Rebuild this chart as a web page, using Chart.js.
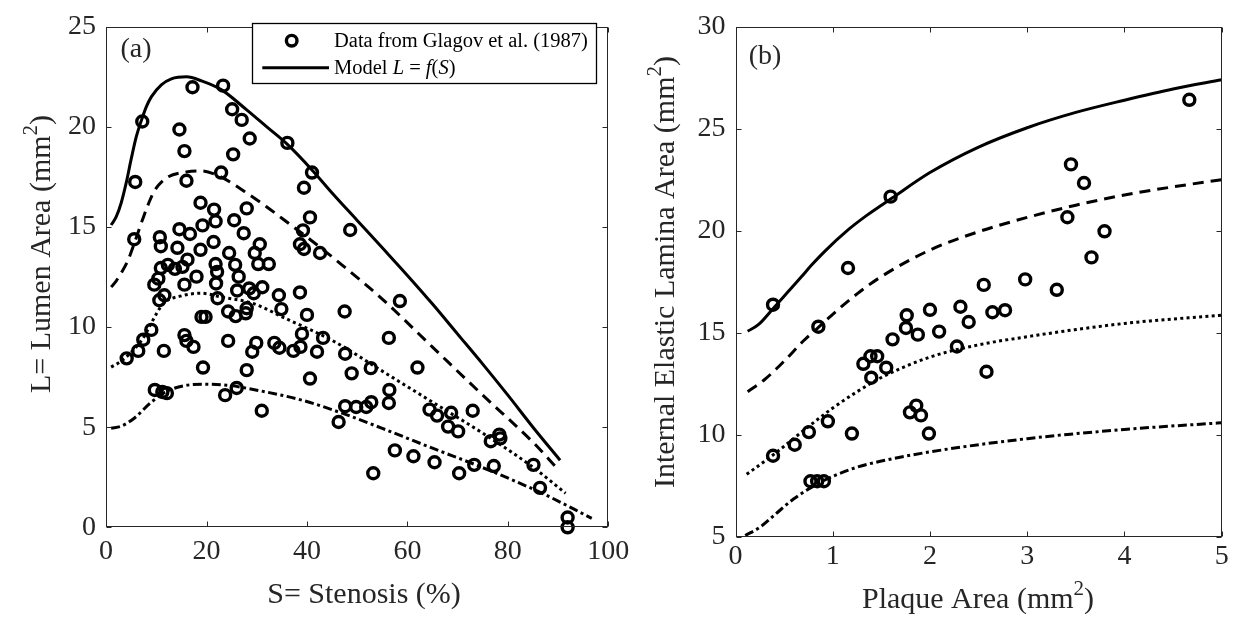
<!DOCTYPE html>
<html><head><meta charset="utf-8">
<script src="https://cdn.jsdelivr.net/npm/chart.js@4.4.0/dist/chart.umd.min.js"></script>
<style>html,body{margin:0;padding:0;background:#fff;width:1239px;height:628px;overflow:hidden}
canvas{position:absolute;left:0;top:0}</style></head>
<body>
<canvas id="ca" width="1239" height="628"></canvas>
<canvas id="cb" width="1239" height="628"></canvas>
<script>
// ---------- Panel (a) data ----------
const stenosis = [7.2,5.8,5.6,17.2,23.3,14.6,15.6,25.1,27.0,28.6,25.3,22.9,16.0,36.1,41.0,39.4,40.6,39.2,38.6,39.4,42.6,48.6,18.8,21.5,21.8,19.2,25.5,28.0,27.4,16.7,14.6,14.2,10.7,10.9,18.8,21.4,24.5,30.6,29.6,30.3,32.4,21.8,25.7,16.2,15.2,13.7,12.3,10.9,10.4,9.6,10.6,11.6,15.6,18.0,22.1,21.9,22.2,26.4,26.1,28.5,29.4,31.1,34.4,34.9,38.6,40.0,24.3,25.8,27.8,28.0,19.0,19.8,9.0,7.4,6.4,4.1,11.5,15.6,16.0,17.4,19.3,24.3,29.9,29.1,28.0,33.5,34.5,37.3,38.7,39.0,43.2,42.0,40.6,47.5,47.6,48.9,52.7,56.3,58.5,62.0,9.7,11.2,12.1,23.7,26.0,31.0,46.3,47.6,49.8,51.8,52.8,56.3,56.4,57.5,61.2,65.4,53.2,64.4,65.9,68.7,68.1,70.1,73.0,70.3,73.3,77.2,76.6,78.3,78.5,85.1,86.4,91.9,91.9];
const lumen = [20.27,17.25,14.39,21.98,22.06,19.87,18.79,20.88,20.35,19.42,18.63,17.72,17.31,19.2,17.72,16.96,15.48,14.83,14.14,13.9,13.7,14.85,16.21,15.87,15.28,15.08,15.34,15.93,14.69,14.65,14.89,13.96,14.49,14.04,13.86,14.25,13.7,14.14,13.7,13.15,13.15,13.15,13.11,13.37,13.01,12.91,13.11,12.95,12.42,12.12,11.34,11.59,12.12,12.52,12.76,12.18,11.44,12.52,11.83,11.93,11.69,11.99,11.59,10.9,11.73,10.61,10.78,10.55,10.69,10.94,10.51,10.51,9.86,9.37,8.81,8.44,8.81,9.6,9.31,9.01,7.98,9.31,9.21,8.77,7.85,9.21,8.97,8.81,9.01,9.66,9.46,8.77,7.43,10.78,8.67,7.69,7.95,9.46,11.3,7.98,6.86,6.76,6.7,6.6,6.96,5.82,5.26,6.05,6.01,6.01,6.25,6.21,6.86,3.84,3.55,3.25,2.7,5.88,5.58,5.72,5.03,4.79,5.82,2.7,3.12,3.06,4.3,4.63,4.44,3.12,1.97,0.49,0.0];

const modelA1x = [1,2,3,4,5,6,7,8,9,11,13,16,19,23,28,32,36,41,45,50,55,60,65,70,75,80,85,90.4];
const modelA1y = [15.1,15.5,16.2,17.2,18.4,19.5,20.3,21.0,21.5,22.1,22.4,22.5,22.3,21.85,20.85,20.0,19.15,17.85,16.7,15.33,13.96,12.58,11.15,9.65,8.15,6.6,5.0,3.35];
const modelA2x = [1,2,3,4.3,5.5,7.3,8.5,9.6,12,16,19,22,25,28,32,36,41,47,55,65,75,85,89.8];
const modelA2y = [12.0,12.3,12.7,13.3,14.1,15.4,16.2,16.8,17.45,17.75,17.8,17.6,17.2,16.7,16.0,15.25,14.3,13.1,11.4,9.0,6.6,4.25,2.95];
const modelA3x = [1,3,5.6,7.5,9,11.3,15,19,23,29,36,45.5,55,65,75,85,91.5];
const modelA3y = [8.0,8.3,8.9,9.5,10.2,11.15,11.56,11.69,11.5,11.2,10.4,9.27,7.8,6.25,4.7,3.0,1.7];
const modelA4x = [1,3,5.6,9,12.3,19,24,30,39,47,55,65,75,87,96.7];
const modelA4y = [4.95,5.05,5.45,6.25,6.82,7.15,7.1,6.85,6.35,5.7,4.94,3.95,2.98,1.68,0.45];

const ticksAx = [0,20,40,60,80,100];
const ticksAy = [0,5,10,15,20,25];

// ---------- Panel (b) data ----------
const plaque = [0.386,0.852,1.157,1.595,0.386,0.609,0.755,0.95,1.197,0.771,0.84,0.909,1.315,1.388,1.457,1.396,1.55,1.615,1.761,1.753,1.875,2.0,2.094,1.794,1.859,1.907,1.989,2.277,2.313,2.398,2.553,2.581,2.642,2.772,2.979,3.304,3.45,3.584,3.413,3.795,3.661,4.667];
const iel = [16.37,15.29,18.17,21.67,8.96,9.5,10.12,10.65,10.05,7.71,7.71,7.71,13.47,13.84,13.84,12.79,13.28,14.67,15.85,15.23,14.9,16.12,15.05,11.09,11.42,10.94,10.05,14.32,16.27,15.52,17.34,13.08,16.0,16.1,17.61,17.1,23.25,22.34,20.66,19.97,18.69,26.42];

const modelB1x = [0.125,0.235,0.39,0.54,0.68,0.78,0.92,1.16,1.35,1.61,2.0,2.5,3.0,3.5,4.0,4.5,5.0];
const modelB1y = [15.07,15.39,16.2,17.0,17.75,18.3,19.0,20.05,20.75,21.6,22.85,24.1,25.05,25.8,26.4,26.95,27.4];
const modelB2x = [0.125,0.3,0.5,0.7,0.85,1.0,1.25,1.5,2.0,2.5,3.0,3.5,4.0,4.5,5.0];
const modelB2y = [12.1,12.7,13.6,14.6,15.25,15.9,16.9,17.75,19.05,19.95,20.65,21.25,21.75,22.15,22.5];
const modelB3x = [0.115,0.4,0.7,1.0,1.25,1.5,2.0,2.5,3.0,3.5,4.0,4.5,5.0];
const modelB3y = [8.05,9.05,10.2,11.3,12.1,12.8,13.8,14.4,14.8,15.15,15.45,15.67,15.85];
const modelB4x = [0.1,0.25,0.4,0.6,0.85,1.0,1.25,1.5,2.0,3.0,4.0,5.0];
const modelB4y = [5.05,5.45,6.05,6.85,7.6,7.95,8.4,8.7,9.15,9.8,10.25,10.58];

const ticksBx = [0,1,2,3,4,5];
const ticksBy = [5,10,15,20,25,30];

// ---------- styling ----------
const FONT = '"Liberation Serif","Times New Roman",serif';
const AX = '#262626';
const TICKFS = 28;
const TITLEFS = 30;

function pts(xs, ys){ return xs.map((x,i)=>({x:x, y:ys[i]})); }
function scatterDs(xs, ys){
  return {data: pts(xs,ys), showLine:false, pointRadius:5.5, pointHoverRadius:5.5,
    pointBorderWidth:3.4, pointBorderColor:'#000', pointBackgroundColor:'rgba(0,0,0,0)', clip:false, order:1};
}
function lineDs(xs, ys, dash){
  return {data: pts(xs,ys), showLine:true, pointRadius:0, borderColor:'#000', borderWidth:3,
    borderDash:dash, borderCapStyle:'butt', cubicInterpolationMode:'monotone', fill:false, order:0};
}
const DASHES = [[], [11,7], [3,3.3], [9,3.5,3,3.5]];

function rich(ctx, parts, size, x, y, rot, align, color){
  ctx.save(); ctx.translate(x,y); if(rot) ctx.rotate(rot);
  let w = 0;
  const m = parts.map(p=>{ const fs = p.sup? size*0.7 : size;
    ctx.font = (p.it?'italic ':'') + fs + 'px ' + FONT; const pw = ctx.measureText(p.t).width; w += pw; return {p,fs,pw}; });
  let cx = align==='left' ? 0 : -w/2;
  ctx.fillStyle = color || AX;
  ctx.textBaseline = 'alphabetic'; ctx.textAlign = 'left';
  m.forEach(o=>{ ctx.font = (o.p.it?'italic ':'') + o.fs + 'px ' + FONT;
    ctx.fillText(o.p.t, cx, size*0.33 - (o.p.sup? size*0.42 : 0)); cx += o.pw; });
  ctx.restore();
}

function framePlugin(tx, ty, extra){
  return { id:'frame', afterDraw(chart){
    const ctx = chart.ctx, a = chart.chartArea, xs = chart.scales.x, ys = chart.scales.y;
    ctx.save();
    ctx.strokeStyle = AX; ctx.lineWidth = 1;
    const L = Math.round(a.left)+0.5, R = Math.round(a.right)-0.5, T = Math.round(a.top)+0.5, B = Math.round(a.bottom)-0.5;
    ctx.strokeRect(L, T, R-L, B-T);
    ctx.beginPath();
    tx.forEach(v=>{ const p = Math.round(xs.getPixelForValue(v))+0.5; ctx.moveTo(p,B); ctx.lineTo(p,B-5); ctx.moveTo(p,T); ctx.lineTo(p,T+5); });
    ty.forEach(v=>{ const p = Math.round(ys.getPixelForValue(v))+0.5; ctx.moveTo(L,p); ctx.lineTo(L+5,p); ctx.moveTo(R,p); ctx.lineTo(R-5,p); });
    ctx.stroke();
    ctx.restore();
    extra(ctx, chart);
  }};
}

function makeChart(id, opt){
  return new Chart(document.getElementById(id), {
    type:'scatter',
    data:{datasets: opt.datasets},
    options:{
      responsive:false, animation:false, events:[],
      layout:{padding:opt.padding},
      plugins:{legend:{display:false}, tooltip:{enabled:false}},
      scales:{
        x:{type:'linear', min:opt.xr[0], max:opt.xr[1], afterFit:s=>{s.height=opt.xh;},
           afterBuildTicks:s=>{s.ticks = opt.tx.map(v=>({value:v}));},
           grid:{display:false, drawTicks:false}, border:{display:false},
           ticks:{color:AX, font:{family:FONT, size:TICKFS}, padding:opt.xpad, maxRotation:0, autoSkip:false}},
        y:{type:'linear', min:opt.yr[0], max:opt.yr[1], afterFit:s=>{s.width=opt.yw;},
           afterBuildTicks:s=>{s.ticks = opt.ty.map(v=>({value:v}));},
           grid:{display:false, drawTicks:false}, border:{display:false},
           ticks:{color:AX, font:{family:FONT, size:TICKFS}, padding:opt.ypad, autoSkip:false}}
      }
    },
    plugins:[framePlugin(opt.tx, opt.ty, opt.extra)]
  });
}

// Panel (a)
makeChart('ca', {
  padding:{left:0, top:17.3, right:1239-608.3, bottom:0},
  xr:[0,100], yr:[0,25], xh:628-527.3, yw:106.1, xpad:8, ypad:10,
  tx:ticksAx, ty:ticksAy,
  datasets:[
    scatterDs(stenosis, lumen),
    lineDs(modelA1x, modelA1y, DASHES[0]),
    lineDs(modelA2x, modelA2y, DASHES[1]),
    lineDs(modelA3x, modelA3y, DASHES[2]),
    lineDs(modelA4x, modelA4y, DASHES[3])
  ],
  extra:(ctx)=>{
    rich(ctx, [{t:'L= Lumen Area (mm'},{t:'2',sup:true},{t:')'}], TITLEFS, 40, 254, -Math.PI/2);
    rich(ctx, [{t:'S= Stenosis (%)'}], TITLEFS, 364, 593, 0);
    rich(ctx, [{t:'(a)'}], 28, 136, 48, 0);
    // legend
    ctx.save();
    ctx.fillStyle = '#fff'; ctx.fillRect(252, 23, 345, 61);
    ctx.strokeStyle = '#000'; ctx.lineWidth = 1.3; ctx.strokeRect(252.5, 23.5, 344, 60);
    ctx.lineWidth = 3.4; ctx.beginPath(); ctx.arc(291.7, 40.7, 5.3, 0, Math.PI*2); ctx.stroke();
    ctx.lineWidth = 3; ctx.beginPath(); ctx.moveTo(262.3, 67.7); ctx.lineTo(329, 67.7); ctx.stroke();
    ctx.restore();
    rich(ctx, [{t:'Data from Glagov et al. (1987)'}], 20.5, 334, 40.7, 0, 'left', '#000');
    rich(ctx, [{t:'Model '},{t:'L',it:true},{t:' = '},{t:'f',it:true},{t:'('},{t:'S',it:true},{t:')'}], 20.5, 334, 67.7, 0, 'left', '#000');
  }
});

// Panel (b)
makeChart('cb', {
  padding:{left:620, top:20, right:1239-1221.7, bottom:0},
  xr:[0,5], yr:[5,30], xh:628-536.5, yw:115.5, xpad:3, ypad:10,
  tx:ticksBx, ty:ticksBy,
  datasets:[
    scatterDs(plaque, iel),
    lineDs(modelB1x, modelB1y, DASHES[0]),
    lineDs(modelB2x, modelB2y, DASHES[1]),
    lineDs(modelB3x, modelB3y, DASHES[2]),
    lineDs(modelB4x, modelB4y, DASHES[3])
  ],
  extra:(ctx)=>{
    rich(ctx, [{t:'Internal Elastic Lamina Area (mm'},{t:'2',sup:true},{t:')'}], TITLEFS, 664, 272, -Math.PI/2);
    rich(ctx, [{t:'Plaque Area (mm'},{t:'2',sup:true},{t:')'}], TITLEFS, 978, 598, 0);
    rich(ctx, [{t:'(b)'}], 28, 765, 55, 0);
  }
});
</script>
</body></html>
